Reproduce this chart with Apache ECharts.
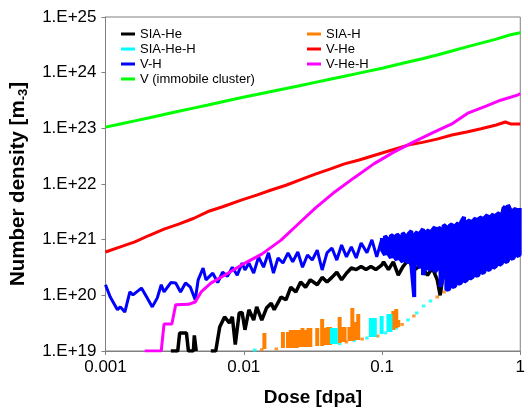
<!DOCTYPE html>
<html><head><meta charset="utf-8">
<script src="https://cdn.jsdelivr.net/npm/echarts@6/dist/echarts.min.js"></script>
<style>html,body{margin:0;padding:0;background:#fff}#c{width:528px;height:412px}</style>
</head><body><div id="c"></div>
<script>
const xTickLabels = ['0.001','0.01','0.1','1'];
const yTickLabels = ['1.E+19','1.E+20','1.E+21','1.E+22','1.E+23','1.E+24','1.E+25'];

// V (immobile cluster)
const vDose = [0.001,0.00128,0.00163,0.00208,0.00265,0.00338,0.00432,0.00551,0.00703,0.0097,0.0124,0.0158,0.0202,0.0258,0.0329,0.042,0.0535,0.0683,0.1,0.154,0.196,0.25,0.32,0.41,0.52,0.67,0.85,1.0];
const vVal  = [1.05e23,1.2e23,1.36e23,1.55e23,1.77e23,2.02e23,2.31e23,2.63e23,3.0e23,3.57e23,4.05e23,4.6e23,5.2e23,5.9e23,6.7e23,7.6e23,8.6e23,9.8e23,1.2e24,1.55e24,1.78e24,2.08e24,2.45e24,2.9e24,3.4e24,4.0e24,4.8e24,5.2e24];

// V-He
const vHeDose = [0.001,0.00128,0.00163,0.00208,0.00265,0.00338,0.00432,0.00551,0.00703,0.0097,0.0124,0.0158,0.0202,0.0258,0.0329,0.042,0.0535,0.0683,0.1,0.154,0.196,0.25,0.32,0.41,0.52,0.67,0.78,0.85,1.0];
const vHeVal  = [6.0e20,7.4e20,9.1e20,1.2e21,1.55e21,1.9e21,2.4e21,3.2e21,3.9e21,5.2e21,6.3e21,7.8e21,9.5e21,1.2e22,1.5e22,1.85e22,2.3e22,2.7e22,3.6e22,5.0e22,5.6e22,6.4e22,7.6e22,8.6e22,9.8e22,1.15e23,1.3e23,1.2e23,1.2e23];

// V-He-H
const vHeHDose = [0.00192,0.00253,0.00265,0.00302,0.00322,0.00398,0.00446,0.00492,0.00578,0.00726,0.0102,0.0135,0.0186,0.0258,0.0329,0.0455,0.063,0.0872,0.1207,0.167,0.2313,0.32,0.422,0.565,0.721,0.967,1.0];
const vHeHVal  = [1e19,1e19,3.05e19,3.05e19,6.8e19,6.9e19,7.6e19,1.15e20,1.66e20,2.3e20,3.8e20,5.5e20,9.8e20,2.1e21,3.7e21,7.2e21,1.3e22,2.3e22,3.7e22,5.6e22,8.3e22,1.2e23,1.9e23,2.5e23,3.2e23,4.0e23,4.2e23];

// V-H (noisy part below 0.1)
const vHDose = [0.001,0.00108,0.00122,0.00128,0.00138,0.0015,0.00158,0.00182,0.00198,0.00218,0.00237,0.00253,0.00265,0.00297,0.00322,0.00349,0.00379,0.00411,0.00446,0.00468,0.00508,0.00533,0.00597,0.00648,0.00703,0.00762,0.00827,0.00897,0.00973,0.0102,0.0109,0.0118,0.0128,0.0139,0.0151,0.0164,0.0177,0.0192,0.0209,0.0226,0.0246,0.0266,0.0289,0.0313,0.034,0.0369,0.04,0.0434,0.0471,0.051,0.0553,0.06,0.0651,0.0706,0.0778,0.0845,0.0916,0.100];
const vHVal  = [1.55e20,9.4e19,5.5e19,6.2e19,5.0e19,1.15e20,1.02e20,1.35e20,9.4e19,6.2e19,9.0e19,1.55e20,1.15e20,1.7e20,1.67e20,1.15e20,1.67e20,1.4e20,8.3e19,1.9e20,3.1e20,1.9e20,2.5e20,1.7e20,2.6e20,2.2e20,3.2e20,2.3e20,3.8e20,2.85e20,3.8e20,2.5e20,4.9e20,3.2e20,5.8e20,2.5e20,4.7e20,3.8e20,5.8e20,4.0e20,6.0e20,3.2e20,5.3e20,4.3e20,6.5e20,2.85e20,5.8e20,7.1e20,4.3e20,8.0e20,4.9e20,7.4e20,4.7e20,8.7e20,5.8e20,9.9e20,4.9e20,1.07e21];
// V-H dense band above 0.1: upper and lower values at each dose
const vHBandDose = [0.100,0.105,0.110,0.116,0.122,0.128,0.134,0.141,0.148,0.155,0.163,0.171,0.180,0.189,0.198,0.208,0.218,0.229,0.241,0.253,0.265,0.279,0.292,0.307,0.322,0.339,0.356,0.373,0.392,0.412,0.432,0.454,0.476,0.500,0.525,0.551,0.579,0.608,0.638,0.670,0.704,0.739,0.776,0.815,0.856,0.898,0.943,0.990];
const vHBandHi = [1.07e21,1.16e21,1.03e21,1.21e21,1.12e21,1.26e21,1.12e21,1.32e21,1.16e21,1.26e21,1.43e21,1.21e21,1.37e21,1.32e21,1.56e21,1.37e21,1.49e21,1.43e21,1.69e21,1.56e21,1.62e21,1.84e21,1.69e21,1.76e21,1.91e21,1.76e21,1.99e21,2.08e21,2.55e21,2.08e21,2.25e21,2.16e21,2.45e21,2.35e21,2.55e21,2.45e21,2.77e21,2.55e21,2.89e21,2.77e21,3.01e21,2.89e21,4.03e21,4.20e21,3.27e21,3.56e21,3.41e21,3.71e21];
const vHBandLo = [6.53e20,5.31e20,5.77e20,4.69e20,5.09e20,4.32e20,4.69e20,3.97e20,4.32e20,3.81e20,3.51e20,9.34e19,3.81e20,3.10e20,2.32e20,3.37e20,2.85e20,3.10e20,2.62e20,3.10e20,1.41e20,2.62e20,1.25e20,1.30e20,1.41e20,1.47e20,1.60e20,1.67e20,1.74e20,1.89e20,1.97e20,2.14e20,2.23e20,2.32e20,2.52e20,2.62e20,2.85e20,2.97e20,3.10e20,3.37e20,3.51e20,3.81e20,3.97e20,4.14e20,4.50e20,4.69e20,5.09e20,5.31e20];

// SIA-He (null = gap)
const siaHeDose = [0.00297,0.00333,0.00344,0.00385,0.00398,0.00432,0.00439,0.00453,0.00508,0.00578,0.00627,0.0067,0.00726,0.00787,0.00827,0.00868,0.00927,0.00973,0.0102,0.0109,0.0118,0.0124,0.0135,0.0146,0.0158,0.0166,0.0186,0.0202,0.0219,0.0238,0.0258,0.028,0.0303,0.034,0.0369,0.04,0.0434,0.0471,0.051,0.0553,0.06,0.0651,0.0706,0.0766,0.0831,0.0901,0.0994,0.1026,0.1113,0.1207,0.131,0.1421,0.1541,0.1726,0.1903,0.2133,0.2313,0.2509,0.2634,0.2812,0.295,0.32,0.347,0.377,0.409,0.443,0.481,0.521,0.565,0.593,0.613,0.666,0.721,0.757,0.795,0.835,0.877,0.92,0.967];
const siaHeVal  = [1e19,1e19,2.1e19,2.1e19,1e19,1e19,1.9e19,1e19,null,1e19,1e19,2.7e19,4.1e19,3.2e19,4.1e19,1.3e19,4.8e19,4.9e19,2.4e19,5.5e19,3.6e19,6.2e19,3.6e19,5.9e19,7.2e19,5.5e19,9.3e19,8.3e19,1.4e20,1.15e20,1.74e20,1.4e20,1.9e20,1.55e20,2.1e20,1.74e20,2.1e20,2.6e20,1.9e20,2.5e20,3.1e20,2.9e20,3.3e20,2.9e20,3.3e20,2.9e20,3.5e20,4.0e20,2.9e20,4.0e20,2.3e20,3.3e20,4.3e20,2.9e20,3.5e20,2.3e20,3.1e20,1.9e20,1.0e20,2.9e20,2.85e20,5.31e20,3.97e20,6.53e20,4.69e20,8.02e20,6.01e20,9.87e20,1.49e21,5.31e20,2.55e21,1.21e21,2.25e21,3.86e21,2.08e21,3.27e21,2.77e21,1.76e21,2.45e21];

// SIA-H spikes (dose, top, base) and isolated points
const siaHSpikeDose = [0.0141,0.0192,0.0209,0.0219,0.0230,0.0242,0.0254,0.0266,0.0280,0.0294,0.0303,0.0340,0.0369,0.0387,0.0406,0.0420,0.0494,0.0519,0.0536,0.0581,0.0610,0.0651,0.0673,0.1207,0.1268,0.1310];
const siaHSpikeTop  = [2.11e19,2.20e19,2.20e19,2.39e19,2.39e19,2.39e19,2.39e19,2.59e19,2.39e19,2.59e19,2.59e19,2.59e19,3.76e19,2.59e19,2.70e19,2.70e19,4.09e19,2.70e19,2.70e19,2.70e19,5.93e19,3.32e19,4.62e19,5.24e19,5.69e19,3.61e19];
const siaHSpikeBase = [1.09e19,1.13e19,1.13e19,1.13e19,1.13e19,1.13e19,1.18e19,1.18e19,1.18e19,1.18e19,1.18e19,1.23e19,1.23e19,1.28e19,1.28e19,1.28e19,1.39e19,1.45e19,1.45e19,1.51e19,1.51e19,1.58e19,1.58e19,2.39e19,2.59e19,2.70e19];
const siaHDotDose = [0.0135,0.0172,0.0553,0.0718,0.0931,0.1398,0.1699,0.2509,0.2812];
const siaHDotVal  = [1.06e19,1.09e19,1.45e19,1.64e19,1.86e19,3.00e19,4.26e19,9.34e19,1.15e20];

// SIA-He-H spikes and isolated points
const siaHeHSpikeDose = [0.0434,0.0448,0.0463,0.0831,0.0858,0.0887,0.0994,0.1113,0.1150];
const siaHeHSpikeTop  = [2.59e19,2.59e19,2.59e19,3.92e19,3.92e19,3.92e19,4.26e19,4.62e19,4.62e19];
const siaHeHSpikeBase = [1.34e19,1.34e19,1.34e19,1.79e19,1.79e19,1.79e19,2.02e19,2.20e19,2.20e19];
const siaHeHDotDose = [0.0120,0.0494,0.0630,0.0778,0.1060,0.1268,0.1541,0.1783,0.1998,0.2239];
const siaHeHDotVal  = [1.04e19,1.36e19,1.55e19,1.71e19,2.11e19,2.59e19,3.61e19,4.82e19,6.44e19,7.91e19];

function pairs(xs, ys){ return xs.map((x,i)=> ys[i]===null ? [x,'-'] : [x, ys[i]]); }
function spikes(xs, tops, bases){ const out=[]; xs.forEach((x,i)=>{ out.push([x,bases[i]],[x,tops[i]],[x,'-']); }); return out; }
function band(xs, hi, lo){ const out=[]; xs.forEach((x,i)=>{ if(i%2===0){out.push([x,hi[i]],[x,lo[i]]);} else {out.push([x,lo[i]],[x,hi[i]]);} }); return out; }

const FONT = 'Liberation Sans, Arial, sans-serif';
const C = {black:'#000000', orange:'#ff8000', cyan:'#00ffff', red:'#ff0000', blue:'#0000ff', magenta:'#ff00ff', green:'#00ff00'};
function line(name, color, data, w){ return {name, type:'line', data, showSymbol:false, symbol:'none', clip:true, connectNulls:false, lineStyle:{color, width:w||3, join:'bevel'}, itemStyle:{color}, emphasis:{disabled:true}, animation:false}; }
function dots(name, color, data){ return {name, type:'scatter', data, symbol:'rect', symbolSize:[3.5,3], itemStyle:{color}, clip:true, emphasis:{disabled:true}, animation:false}; }

const legendText = {fontSize:13, fontFamily:FONT, color:'#000', lineHeight:14};
const chart = echarts.init(document.getElementById('c'), null, {renderer:'canvas'});
chart.setOption({
  animation:false,
  backgroundColor:'#fff',
  grid:{left:105, top:17, right:-2, bottom:61, show:true, borderColor:'#808080', borderWidth:1},
  legend:[
    {data:['SIA-He','SIA-He-H','V-H','V (immobile cluster)'], orient:'vertical', left:116, top:22, icon:'rect', itemWidth:14, itemHeight:3, itemGap:1, selectedMode:false, textStyle:legendText},
    {data:['SIA-H','V-He','V-He-H'], orient:'vertical', left:302, top:22, icon:'rect', itemWidth:14, itemHeight:3, itemGap:1, selectedMode:false, textStyle:legendText}
  ],
  xAxis:{type:'log', logBase:10, min:0.001, max:1, splitNumber:3,
    name:'Dose [dpa]', nameLocation:'middle', nameGap:37,
    nameTextStyle:{fontSize:19, fontWeight:'bold', fontFamily:FONT, color:'#000'},
    axisLine:{lineStyle:{color:'#808080', width:1}},
    axisTick:{show:true, length:4, lineStyle:{color:'#808080'}},
    splitLine:{show:false}, minorTick:{show:false},
    axisLabel:{fontSize:17, fontFamily:FONT, color:'#000', margin:8,
      formatter:v=>xTickLabels[Math.round(Math.log10(v))+3]}},
  yAxis:{type:'log', logBase:10, min:1e19, max:1e25, splitNumber:6,
    name:'{b|Number density [m}{s|-3}{b|]}', nameLocation:'middle', nameGap:76, nameRotate:90,
    nameTextStyle:{fontFamily:FONT, color:'#000', rich:{b:{fontSize:20.5, fontWeight:'bold', fontFamily:FONT, color:'#000'}, s:{fontSize:13, fontWeight:'bold', fontFamily:FONT, color:'#000', padding:[9,0,0,0]}}},
    axisLine:{show:true, lineStyle:{color:'#808080', width:1}},
    axisTick:{show:true, length:4, lineStyle:{color:'#808080'}},
    splitLine:{show:false},
    axisLabel:{fontSize:17, fontFamily:FONT, color:'#000', margin:9,
      formatter:v=>yTickLabels[Math.round(Math.log10(v))-19]}},
  series:[
    line('SIA-He', C.black, pairs(siaHeDose, siaHeVal), 3.5),
    line('SIA-H', C.orange, spikes(siaHSpikeDose, siaHSpikeTop, siaHSpikeBase), 4),
    dots('SIA-H', C.orange, pairs(siaHDotDose, siaHDotVal)),
    line('SIA-He-H', C.cyan, spikes(siaHeHSpikeDose, siaHeHSpikeTop, siaHeHSpikeBase), 4),
    dots('SIA-He-H', C.cyan, pairs(siaHeHDotDose, siaHeHDotVal)),
    line('V-He', C.red, pairs(vHeDose, vHeVal), 3),
    line('V-H', C.blue, pairs(vHDose, vHVal), 3),
    line('V-H', C.blue, band(vHBandDose, vHBandHi, vHBandLo), 4),
    line('V-He-H', C.magenta, pairs(vHeHDose, vHeHVal), 3),
    line('V (immobile cluster)', C.green, pairs(vDose, vVal), 3)
  ]
});
</script></body></html>
